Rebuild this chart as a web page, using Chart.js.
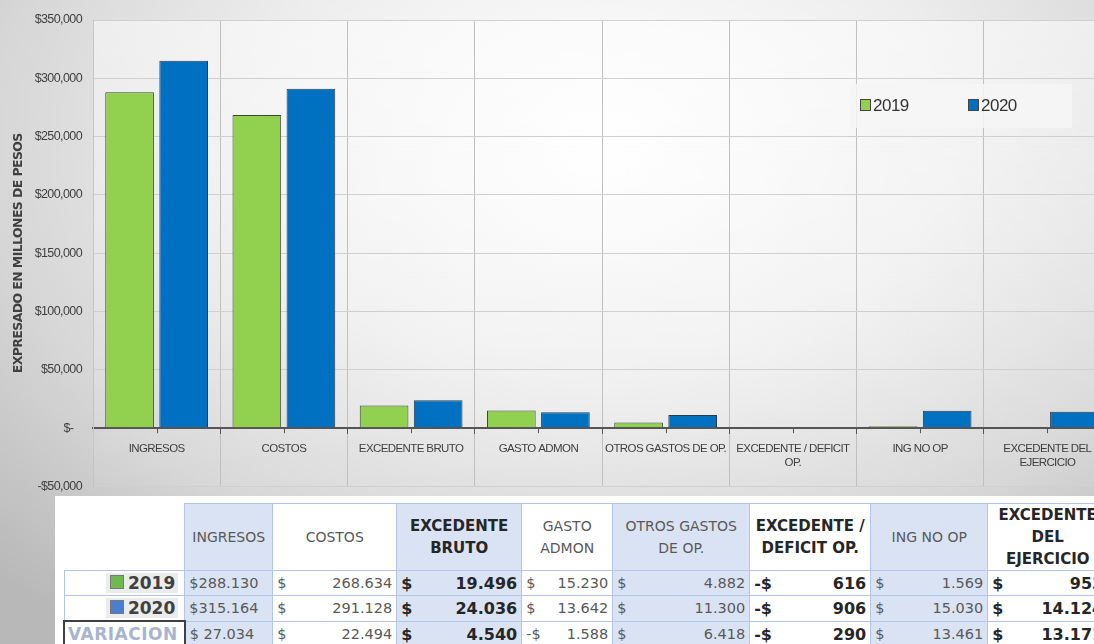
<!DOCTYPE html>
<html>
<head>
<meta charset="utf-8">
<script src="https://cdn.jsdelivr.net/npm/chart.js@4.4.1/dist/chart.umd.min.js"></script>
<style>
  html, body { margin: 0; padding: 0; }
  body {
    width: 1094px; height: 644px; overflow: hidden; position: relative;
    background: radial-gradient(ellipse 78% 95% at 55% 22%, #ffffff 0%, #eeeeee 40%, #d6d6d6 72%, #b8b8b8 100%);
    font-family: "DejaVu Sans", sans-serif;
  }
  #wrap { position: absolute; left: 0; top: 0; width: 1115px; height: 505px; }
  #legend {
    position: absolute; left: 850px; top: 84px; width: 222px; height: 44px;
    background: rgba(246,246,246,0.85);
    font-family: "Liberation Sans", Arial, sans-serif;
    font-size: 17px; color: #333; letter-spacing: -0.5px;
  }
  #legend span { position: absolute; top: 12px; }
  #legend i { display: inline-block; width: 9px; height: 10px; border: 1px solid #444; margin-right: 2px; vertical-align: 0; }
  #tbox { position: absolute; left: 55px; top: 496px; width: 1060px; height: 160px; background: #fff; }
  table { position: absolute; left: 8px; top: 7px; border-collapse: collapse; table-layout: fixed; }
  td, th { border: 1px solid #b4c6e7; padding: 0 4px; white-space: nowrap; overflow: hidden; }
  th { height: 65px; font-weight: normal; font-size: 14px; color: #595959; line-height: 22px; white-space: normal; }
  th.b { font-weight: bold; color: #262626; font-size: 15px; }
  th.lab { border: none; background: #fff; }
  td { height: 24px; font-size: 14.5px; color: #595959; }
  td.b { font-weight: bold; color: #262626; font-size: 16px; }
  .blue { background: #dae3f3; }
  td .d { float: left; }
  td .n { float: right; }
  td.lab { text-align: right; font-weight: bold; font-size: 17px; color: #404040; padding-right: 6px; }
  td.lab span { background: #ececec; padding: 0 3px 0 4px; }
  td.lab i { display: inline-block; width: 12px; height: 12px; border: 1px solid #777; margin-right: 4px; vertical-align: 0; }
  td.var { border: 2px solid #404040; color: #a9b4cc; text-align: left; letter-spacing: 0.5px; padding-left: 3px; }
</style>
</head>
<body>
<div id="wrap"><canvas id="chart" width="1115" height="505"></canvas></div>
<div id="legend"></div>
<div id="tbox"><table id="tbl"></table></div>
<script>
const categories = [["INGRESOS"], ["COSTOS"], ["EXCEDENTE BRUTO"], ["GASTO ADMON"], ["OTROS GASTOS DE OP."],
    ["EXCEDENTE / DEFICIT", "OP."], ["ING NO OP"], ["EXCEDENTE DEL", "EJERCICIO"]];
const tableHeaders = ["INGRESOS", "COSTOS", "EXCEDENTE<br>BRUTO", "GASTO<br>ADMON", "OTROS GASTOS<br>DE OP.",
    "EXCEDENTE /<br>DEFICIT OP.", "ING NO OP", "EXCEDENTE<br>DEL<br>EJERCICIO"];
const boldCols = [false, false, true, false, false, true, false, true];
const seriesNames = ["2019", "2020"];
const values2019 = [288130, 268634, 19496, 15230, 4882, -616, 1569, 953];
const values2020 = [315164, 291128, 24036, 13642, 11300, -906, 15030, 14124];
const variacion = [27034, 22494, 4540, -1588, 6418, -290, 13461, 13171];
const colors = ["#92d050", "#0070c0"];
const yMin = -50000, yMax = 350000, yStep = 50000;

const narrow = "'Liberation Sans', Arial, sans-serif";

// plot area light fill + tighter text
const areaFill = {
    id: "areaFill",
    beforeDraw(chart) {
        const {ctx, chartArea: a} = chart;
        ctx.letterSpacing = "-0.6px";
        ctx.save();
        let g = ctx.createLinearGradient(0, a.top, 0, a.bottom);
        g.addColorStop(0, "rgba(255,255,255,0.5)");
        g.addColorStop(1, "rgba(255,255,255,0.05)");
        ctx.fillStyle = g;
        ctx.fillRect(a.left, a.top, a.right - a.left, a.bottom - a.top);
        ctx.restore();
    },
    // small tick marks under each category centre
    afterDraw(chart) {
        const {ctx, scales: {x, y}} = chart;
        const y0 = y.getPixelForValue(0);
        ctx.save();
        ctx.strokeStyle = "#555";
        ctx.lineWidth = 1;
        chart.data.labels.forEach((l, i) => {
            const px = Math.round(x.getPixelForValue(i)) + 0.5;
            ctx.beginPath();
            ctx.moveTo(px, y0);
            ctx.lineTo(px, y0 + 5);
            ctx.stroke();
        });
        ctx.restore();
    }
};

new Chart(document.getElementById("chart"), {
    type: "bar",
    data: {
        labels: categories,
        datasets: [
            { label: seriesNames[0], data: values2019, backgroundColor: colors[0], borderColor: "#3d4a33", borderWidth: 1 },
            { label: seriesNames[1], data: values2020, backgroundColor: colors[1], borderColor: "#2c3a48", borderWidth: 1 }
        ]
    },
    options: {
        responsive: false,
        animation: false,
        categoryPercentage: 0.85,
        barPercentage: 0.9,
        layout: { padding: { left: 0, right: 4, top: 20, bottom: 0 } },
        plugins: { legend: { display: false }, tooltip: { enabled: false } },
        scales: {
            x: {
                position: { y: 0 },
                grid: { color: "#c0c0c0", tickColor: "#555", tickLength: 5, offset: true },
                border: { color: "#555", width: 2 },
                ticks: { color: "#404040", font: { family: narrow, size: 11.5 }, padding: 9, maxRotation: 0, autoSkip: false }
            },
            y: {
                min: yMin, max: yMax,
                afterFit: s => { s.width = 93; },
                grid: {
                    drawTicks: false,
                    color: c => c.tick.value === 0 ? "#555" : "#d0d0d0",
                    lineWidth: c => c.tick.value === 0 ? 2 : 1
                },
                border: { color: "#c4c4c4" },
                ticks: {
                    stepSize: yStep, padding: 11, color: "#404040",
                    font: { family: narrow, size: 12.5 },
                    callback: v => v === 0 ? "$-   " : (v < 0 ? "-$" : "$") + Math.abs(v).toLocaleString("en-US")
                },
                title: {
                    display: true, text: "EXPRESADO EN MILLONES DE PESOS", color: "#404040",
                    font: { family: "'DejaVu Sans', sans-serif", size: 12.5, weight: "bold" },
                    padding: { top: 11, bottom: 0 }
                }
            }
        }
    },
    plugins: [areaFill]
});

// legend
const legendPos = [860, 968];
document.getElementById("legend").innerHTML = seriesNames.map((n, i) =>
    `<span style="left:${legendPos[i] - 850}px"><i style="background:${colors[i]}"></i>${n}</span>`).join("");

// data table
const fmt = n => String(Math.abs(n)).replace(/\B(?=(\d{3})+(?!\d))/g, ".");
const colW = [117, 88, 124, 125, 91, 137, 121, 117, 120];
function cell(v, i) {
    let cls = (i % 2 === 0 ? "blue " : "") + (boldCols[i] ? "b" : "");
    if (i === 0) {
        let t = v < 0 ? "-$" + fmt(v) : "$" + (Math.abs(v) < 100000 ? " " : "") + fmt(v);
        return `<td class="${cls}">${t}</td>`;
    }
    return `<td class="${cls}"><span class="d">${v < 0 ? "-$" : "$"}</span><span class="n">${fmt(v)}</span></td>`;
}
let html = "<colgroup>" + colW.map(w => `<col style="width:${w}px">`).join("") + "</colgroup>";
html += `<tr><th class="lab"></th>` + tableHeaders.map((h, i) =>
    `<th class="${i % 2 === 0 ? "blue " : ""}${boldCols[i] ? "b" : ""}">${h}</th>`).join("") + "</tr>";
[values2019, values2020].forEach((vals, r) => {
    html += `<tr><td class="lab"><span><i style="background:${r ? "#4a7fd0" : "#70b850"}"></i>${seriesNames[r]}</span></td>` +
        vals.map(cell).join("") + "</tr>";
});
html += `<tr><td class="lab var">VARIACION</td>` + variacion.map(cell).join("") + "</tr>";
document.getElementById("tbl").innerHTML = html;
</script>
</body>
</html>
